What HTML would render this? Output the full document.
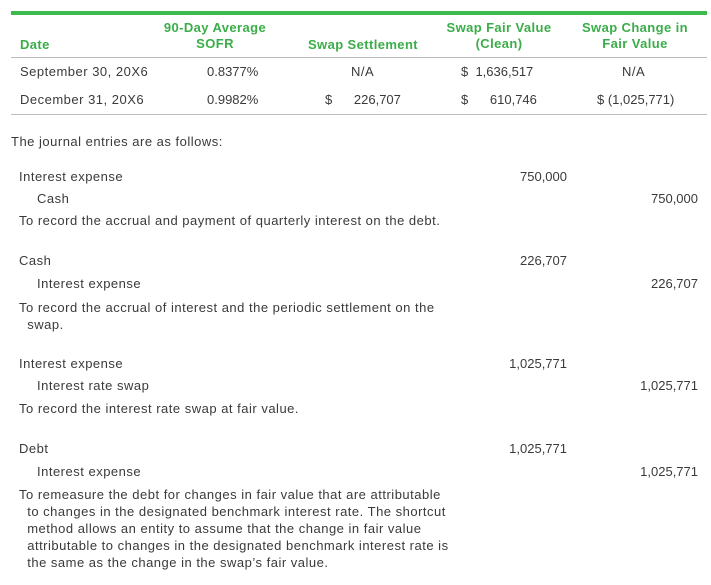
<!DOCTYPE html>
<html><head><style>
body{margin:0;width:711px;height:585px;background:#fff;position:relative;font-family:"Liberation Sans",sans-serif;color:#3a3a3a;font-size:13px;letter-spacing:0.5px}
div{position:absolute;white-space:nowrap}
.h{color:#3aad48;font-weight:bold;font-size:13px;letter-spacing:0.4px;text-align:center;line-height:16px}
.r{text-align:right}
.n{letter-spacing:0}
</style></head><body>
<div style="left:11px;top:11px;width:696px;height:4px;background:#3dba4e"></div>
<div class="h" style="left:20px;top:37px;text-align:left">Date</div>
<div class="h" style="left:160px;top:20px;width:110px">90-Day Average<br>SOFR</div>
<div class="h" style="left:298px;top:37px;width:130px">Swap Settlement</div>
<div class="h" style="left:440px;top:20px;width:118px">Swap Fair Value<br>(Clean)</div>
<div class="h" style="left:575px;top:20px;width:120px">Swap Change in<br>Fair Value</div>
<div style="left:11px;top:57px;width:696px;height:1px;background:#bbb"></div>
<div style="left:20px;top:64px">September 30, 20X6</div>
<div class="n" style="left:207px;top:64px">0.8377%</div>
<div style="left:351px;top:64px">N/A</div>
<div class="n" style="left:461px;top:64px">$&nbsp; 1,636,517</div>
<div style="left:622px;top:64px">N/A</div>
<div style="left:20px;top:92px">December 31, 20X6</div>
<div class="n" style="left:207px;top:92px">0.9982%</div>
<div class="n" style="left:325px;top:92px">$&nbsp;&nbsp;&nbsp;&nbsp;&nbsp; 226,707</div>
<div class="n" style="left:461px;top:92px">$&nbsp;&nbsp;&nbsp;&nbsp;&nbsp; 610,746</div>
<div class="n" style="left:597px;top:92px">$ (1,025,771)</div>
<div style="left:11px;top:114px;width:696px;height:1px;background:#bbb"></div>

<div style="left:11px;top:134px">The journal entries are as follows:</div>

<div style="left:19px;top:169px">Interest expense</div>
<div class="r n" style="right:144px;top:169px">750,000</div>
<div style="left:37px;top:191px">Cash</div>
<div class="r n" style="right:13px;top:191px">750,000</div>
<div style="left:19px;top:213px">To record the accrual and payment of quarterly interest on the debt.</div>

<div style="left:19px;top:253px">Cash</div>
<div class="r n" style="right:144px;top:253px">226,707</div>
<div style="left:37px;top:276px">Interest expense</div>
<div class="r n" style="right:13px;top:276px">226,707</div>
<div style="left:19px;top:299px;line-height:17px">To record the accrual of interest and the periodic settlement on the<br>&nbsp;&nbsp;swap.</div>

<div style="left:19px;top:356px">Interest expense</div>
<div class="r n" style="right:144px;top:356px">1,025,771</div>
<div style="left:37px;top:378px">Interest rate swap</div>
<div class="r n" style="right:13px;top:378px">1,025,771</div>
<div style="left:19px;top:401px">To record the interest rate swap at fair value.</div>

<div style="left:19px;top:441px">Debt</div>
<div class="r n" style="right:144px;top:441px">1,025,771</div>
<div style="left:37px;top:464px">Interest expense</div>
<div class="r n" style="right:13px;top:464px">1,025,771</div>
<div style="left:19px;top:486px;line-height:17px">To remeasure the debt for changes in fair value that are attributable<br>&nbsp;&nbsp;to changes in the designated benchmark interest rate. The shortcut<br>&nbsp;&nbsp;method allows an entity to assume that the change in fair value<br>&nbsp;&nbsp;attributable to changes in the designated benchmark interest rate is<br>&nbsp;&nbsp;the same as the change in the swap’s fair value.</div>
</body></html>
